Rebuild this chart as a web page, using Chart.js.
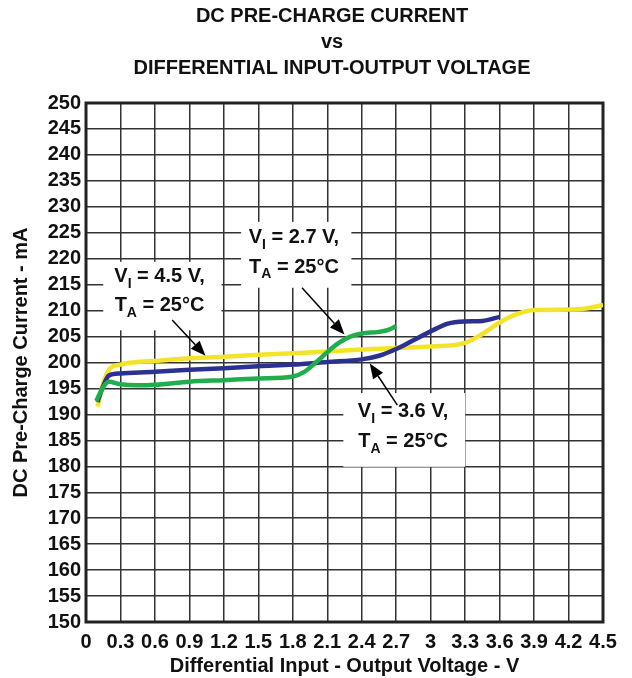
<!DOCTYPE html>
<html>
<head>
<meta charset="utf-8">
<script src="https://cdn.jsdelivr.net/npm/chart.js@4/dist/chart.umd.min.js"></script>
<style>
  body { margin: 0; background: #fff; }
</style>
</head>
<body>
<canvas id="myChart" width="632" height="678"></canvas>
<script>
// values: x = differential voltage (V), y = current (mA)
const vi45X = [0.1, 0.15, 0.2, 0.3, 0.6, 0.9, 1.2, 1.5, 1.8, 2.1, 2.4, 2.7, 3.0, 3.3, 3.45, 3.6, 3.75, 3.9, 4.2, 4.35, 4.5];
const vi45Y = [191.5, 196, 198.6, 199.6, 200.3, 200.8, 201.1, 201.5, 201.8, 202.1, 202.5, 202.8, 203.1, 203.8, 205.5, 207.7, 209.3, 210.1, 210.2, 210.4, 211.1];

const vi36X = [0.1, 0.15, 0.2, 0.3, 0.6, 0.9, 1.2, 1.5, 1.8, 2.1, 2.4, 2.55, 2.7, 2.85, 3.0, 3.15, 3.3, 3.45, 3.6];
const vi36Y = [192.4, 195.5, 197.5, 197.9, 198.2, 198.6, 198.9, 199.3, 199.6, 200.1, 200.6, 201.3, 202.6, 204.3, 206.0, 207.5, 207.9, 208.0, 208.8];

const vi27X = [0.09, 0.15, 0.2, 0.3, 0.45, 0.6, 0.9, 1.2, 1.5, 1.8, 1.9, 2.0, 2.1, 2.2, 2.3, 2.4, 2.55, 2.63, 2.7];
const vi27Y = [192.6, 195.3, 196.3, 195.8, 195.6, 195.7, 196.3, 196.6, 196.9, 197.3, 198.2, 200.0, 202.0, 203.8, 205.0, 205.6, 205.9, 206.3, 207.0];

const xTicks = [0, 0.3, 0.6, 0.9, 1.2, 1.5, 1.8, 2.1, 2.4, 2.7, 3.0, 3.3, 3.6, 3.9, 4.2, 4.5];
const xTickLabels = ['0', '0.3', '0.6', '0.9', '1.2', '1.5', '1.8', '2.1', '2.4', '2.7', '3', '3.3', '3.6', '3.9', '4.2', '4.5'];

const titleLines = ['DC PRE-CHARGE CURRENT', 'vs', 'DIFFERENTIAL INPUT-OUTPUT VOLTAGE'];

const FONT = '"Liberation Sans", Arial, Helvetica, sans-serif';

// callouts, placed in data units: box [x0, x1, yTop, yBottom], text centre, arrow from -> to
const callouts = [
  { v: '4.5', box: [0.15, 1.18, 219.4, 206.2], cx: 0.64, lines: [216.5, 210.9], from: [0.75, 208.2], to: [1.04, 201.3] },
  { v: '2.7', box: [1.35, 2.31, 227.1, 214.4], cx: 1.81, lines: [224.0, 218.4], from: [1.88, 214.4], to: [2.25, 205.4] },
  { v: '3.6', box: [2.24, 3.30, 194.1, 179.9], cx: 2.76, lines: [190.5, 184.7], from: [2.71, 191.8], to: [2.47, 199.8] }
];

const toPoints = (xs, ys) => xs.map((x, i) => ({ x: x, y: ys[i] }));

function subText(ctx, main, sub, rest, cx, cy) {
  const big = 'bold 20px ' + FONT, small = 'bold 14px ' + FONT;
  ctx.font = big;
  const w1 = ctx.measureText(main).width, w3 = ctx.measureText(rest).width;
  ctx.font = small;
  const w2 = ctx.measureText(sub).width;
  let x = cx - (w1 + w2 + w3) / 2;
  ctx.textAlign = 'left';
  ctx.textBaseline = 'middle';
  ctx.font = big;
  ctx.fillText(main, x, cy);
  x += w1;
  ctx.font = small;
  ctx.fillText(sub, x, cy + 7);
  x += w2;
  ctx.font = big;
  ctx.fillText(rest, x, cy);
}

function arrow(ctx, x1, y1, x2, y2) {
  const a = Math.atan2(y2 - y1, x2 - x1), len = 15, hw = 6;
  const bx = x2 - len * Math.cos(a), by = y2 - len * Math.sin(a);
  ctx.strokeStyle = '#000';
  ctx.lineWidth = 1.5;
  ctx.beginPath();
  ctx.moveTo(x1, y1);
  ctx.lineTo(bx, by);
  ctx.stroke();
  ctx.fillStyle = '#000';
  ctx.beginPath();
  ctx.moveTo(x2, y2);
  ctx.lineTo(bx + hw * Math.sin(a), by - hw * Math.cos(a));
  ctx.lineTo(bx - hw * Math.sin(a), by + hw * Math.cos(a));
  ctx.closePath();
  ctx.fill();
}

const extras = {
  id: 'extras',
  beforeDatasetsDraw(chart) {
    const { ctx, chartArea: a } = chart;
    ctx.save();
    ctx.strokeStyle = '#222';
    ctx.lineWidth = 3;
    ctx.strokeRect(a.left, a.top, a.right - a.left, a.bottom - a.top);
    ctx.restore();
  },
  afterDatasetsDraw(chart) {
    const { ctx, scales: { x, y } } = chart;
    ctx.save();
    callouts.forEach(c => {
      const l = x.getPixelForValue(c.box[0]), r = x.getPixelForValue(c.box[1]);
      const t = y.getPixelForValue(c.box[2]), b = y.getPixelForValue(c.box[3]);
      ctx.fillStyle = '#fff';
      ctx.fillRect(l, t, r - l, b - t);
      ctx.fillStyle = '#111';
      const cx = x.getPixelForValue(c.cx);
      subText(ctx, 'V', 'I', ' = ' + c.v + ' V,', cx, y.getPixelForValue(c.lines[0]));
      ctx.fillStyle = '#111';
      subText(ctx, 'T', 'A', ' = 25°C', cx, y.getPixelForValue(c.lines[1]));
      arrow(ctx, x.getPixelForValue(c.from[0]), y.getPixelForValue(c.from[1]),
                 x.getPixelForValue(c.to[0]), y.getPixelForValue(c.to[1]));
    });
    // chart title
    ctx.fillStyle = '#111';
    ctx.font = 'bold 20px ' + FONT;
    ctx.textAlign = 'center';
    ctx.textBaseline = 'middle';
    titleLines.forEach((s, i) => ctx.fillText(s, 332, [16, 42, 68][i]));
    ctx.restore();
  }
};

const ctx = document.getElementById('myChart');

new Chart(ctx, {
  type: 'line',
  data: {
    datasets: [
      { label: 'VI = 2.7 V', data: toPoints(vi27X, vi27Y), borderColor: '#1fae4b' },
      { label: 'VI = 3.6 V', data: toPoints(vi36X, vi36Y), borderColor: '#2b3190' },
      { label: 'VI = 4.5 V', data: toPoints(vi45X, vi45Y), borderColor: '#f3e42a' }
    ]
  },
  options: {
    responsive: false,
    animation: false,
    layout: { padding: { top: 103, right: 29, left: 0, bottom: 0 } },
    elements: {
      line: { borderWidth: 4.5, cubicInterpolationMode: 'monotone', fill: false },
      point: { radius: 0 }
    },
    plugins: {
      legend: { display: false },
      tooltip: { enabled: false }
    },
    scales: {
      x: {
        type: 'linear',
        min: 0,
        max: 4.5,
        afterBuildTicks: scale => { scale.ticks = xTicks.map(v => ({ value: v })); },
        afterFit: scale => { scale.height = 56; },
        ticks: {
          autoSkip: false,
          maxRotation: 0,
          padding: 8,
          color: '#111',
          font: { family: FONT, size: 20, weight: 'bold' },
          callback: (v, i) => xTickLabels[i]
        },
        grid: { color: '#333', lineWidth: 1.5, drawTicks: false },
        border: { display: false },
        title: {
          display: true,
          text: 'Differential Input - Output Voltage - V',
          color: '#111',
          font: { family: FONT, size: 20, weight: 'bold' },
          padding: { top: 0, bottom: 0 }
        }
      },
      y: {
        min: 150,
        max: 250,
        afterFit: scale => { scale.width = 86; },
        ticks: {
          stepSize: 5,
          autoSkip: false,
          padding: 5,
          color: '#111',
          font: { family: FONT, size: 20, weight: 'bold' }
        },
        grid: { color: '#333', lineWidth: 1.5, drawTicks: false },
        border: { display: false },
        title: {
          display: true,
          text: 'DC Pre-Charge Current - mA',
          color: '#111',
          font: { family: FONT, size: 20, weight: 'bold' },
          padding: { top: 9, bottom: 0 }
        }
      }
    }
  },
  plugins: [extras]
});
</script>
</body>
</html>
